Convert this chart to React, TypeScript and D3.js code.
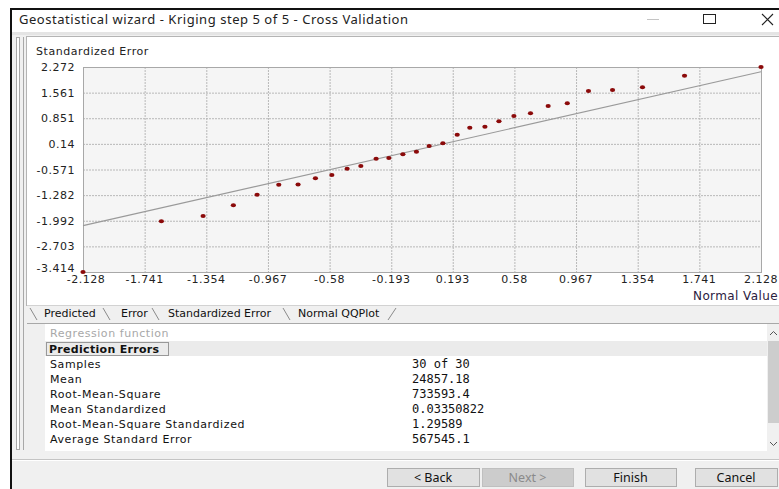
import React from 'react';
import * as d3 from 'd3';

// normal QQ plot: normal quantile vs standardized error (30 samples)
const normalValues = [-2.128, -1.636, -1.374, -1.184, -1.035, -0.899, -0.778, -0.669, -0.566, -0.47,
  -0.384, -0.288, -0.208, -0.12, -0.035, 0.045, 0.131, 0.221, 0.3, 0.395,
  0.483, 0.577, 0.681, 0.792, 0.912, 1.045, 1.196, 1.384, 1.648, 2.128];
const standardizedErrors = [-3.414, -2.008, -1.861, -1.564, -1.27, -0.992, -0.985, -0.815, -0.723, -0.549,
  -0.474, -0.271, -0.252, -0.149, -0.077, 0.081, 0.156, 0.395, 0.589, 0.617,
  0.766, 0.913, 0.988, 1.191, 1.266, 1.607, 1.635, 1.709, 2.031, 2.272];
const refLineX = [-2.128, 2.128];
const refLineY = [-2.13, 2.14];

const xTickLabels = ['-2.128', '-1.741', '-1.354', '-0.967', '-0.58', '-0.193', '0.193', '0.58', '0.967', '1.354', '1.741', '2.128'];
const yTickLabels = ['2.272', '1.561', '0.851', '0.14', '-0.571', '-1.282', '-1.992', '-2.703', '-3.414'];

const tabNames = ['Predicted', 'Error', 'Standardized Error', 'Normal QQPlot'];
const statLabels = ['Samples', 'Mean', 'Root-Mean-Square', 'Mean Standardized', 'Root-Mean-Square Standardized', 'Average Standard Error'];
const statValues = ['30 of 30', '24857.18', '733593.4', '0.03350822', '1.29589', '567545.1'];
const buttonLabels = ['< Back', 'Next >', 'Finish', 'Cancel'];

// layout
const tabX = [44, 121, 168, 298];
const tabSepX = [30, 103, 152, 283];
const buttonX = [387, 482, 585, 695];
const buttonW = [92, 91, 91, 82];

const ui = 'DejaVu Sans, Verdana, sans-serif';
const seg = 'Noto Sans, Open Sans, sans-serif';

export default function App() {
  const x = d3.scaleLinear().domain([-2.128, 2.128]).range([83, 761]);
  const y = d3.scaleLinear().domain([-3.414, 2.272]).range([272, 67]);
  const line = d3.line<number>().x((d) => x(d)).y((d, i) => y(refLineY[i]));

  return (
    <svg width={779} height={489} style={{ position: 'absolute', left: 0, top: 0 }}>
      <rect width={779} height={489} fill="#fff" />
      {/* window frame + title bar */}
      <rect x={12} y={35} width={767} height={454} fill="#f0f0f0" />
      <rect x={10} y={8} width={769} height={2} fill="#111" />
      <rect x={10} y={8} width={2} height={481} fill="#111" />
      <rect x={12} y={32} width={767} height={3} fill="#e4e4e4" />
      <text x={19} y={23.5} fontFamily={seg} fontSize={13} textLength={389} lengthAdjust="spacing" fill="#222">
        Geostatistical wizard - Kriging step 5 of 5 - Cross Validation
      </text>
      <line x1={647} x2={659} y1={19.5} y2={19.5} stroke="#c4c4c4" />
      <rect x={703.5} y={14.5} width={12} height={9} fill="none" stroke="#222" />
      <path d="M762,14L773,25M773,14L762,25" stroke="#222" strokeWidth={1.1} />

      {/* splitter */}
      <rect x={16.5} y={37.5} width={3} height={412} fill="#fff" stroke="#a8a8a8" />
      <line x1={23.5} x2={23.5} y1={37} y2={450} stroke="#a8a8a8" />

      {/* chart panel */}
      <rect x={26.5} y={36.5} width={760} height={269} fill="#fff" stroke="#b4b4b4" />
      <text x={36} y={55} fontFamily={ui} fontSize={11} letterSpacing={0.55} fill="#222">Standardized Error</text>
      <rect x={x(-2.128)} y={y(2.272)} width={x(2.128) - x(-2.128)} height={y(-3.414) - y(2.272)} fill="#f5f5f5" />
      {xTickLabels.map((t) => (
        <line key={'gx' + t} x1={x(+t) + 0.5} x2={x(+t) + 0.5} y1={y(2.272)} y2={y(-3.414)} stroke="#b8b8b8" strokeDasharray="2 1" />
      ))}
      {yTickLabels.map((t) => (
        <line key={'gy' + t} x1={x(-2.128)} x2={x(2.128)} y1={y(+t) + 0.5} y2={y(+t) + 0.5} stroke="#b8b8b8" strokeDasharray="2 1" />
      ))}
      <rect x={x(-2.128) + 0.5} y={y(2.272) + 0.5} width={x(2.128) - x(-2.128)} height={y(-3.414) - y(2.272)} fill="none" stroke="#a8a8a8" />
      {yTickLabels.map((t) => (
        <text key={'ly' + t} x={75} y={Math.min(y(+t) + 4, 272)} textAnchor="end" fontFamily={ui} fontSize={11} letterSpacing={0.5} fill="#222">{t}</text>
      ))}
      {xTickLabels.map((t) => (
        <text key={'lx' + t} x={Math.max(x(+t), 86)} y={282.5} textAnchor="middle" fontFamily={ui} fontSize={11} letterSpacing={0.5} fill="#222">{t}</text>
      ))}
      <text x={693} y={300} fontFamily={ui} fontSize={12} letterSpacing={0.4} fill="#2a2040">Normal Value</text>
      <path d={line(refLineX) || ''} fill="none" stroke="#9a9a9a" strokeWidth={1.2} />
      {normalValues.map((v, i) => (
        <ellipse key={i} cx={x(v)} cy={y(standardizedErrors[i])} rx={2.6} ry={2} fill="#8b0a0a" />
      ))}

      {/* tabs */}
      <rect x={27} y={305} width={752} height={19} fill="#f0f0f0" />
      <line x1={27} x2={779} y1={305.5} y2={305.5} stroke="#d2d2d2" />
      <line x1={27} x2={779} y1={323.5} y2={323.5} stroke="#a8a8a8" />
      {tabSepX.map((sx, i) => (
        <path key={'ts' + i} d={`M${sx},308L${sx + 7},320`} stroke="#8a8a8a" fill="none" />
      ))}
      <path d="M388,320L396,308" stroke="#8a8a8a" fill="none" />
      {tabNames.map((t, i) => (
        <text key={t} x={tabX[i]} y={317} fontFamily={ui} fontSize={11} fill="#111">{t}</text>
      ))}

      {/* property grid */}
      <rect x={27} y={324} width={740} height={127} fill="#fff" />
      <rect x={27} y={324} width={18} height={127} fill="#f0f0f0" />
      <rect x={45} y={341} width={722} height={15} fill="#ebebeb" />
      <text x={50} y={337} fontFamily={ui} fontSize={11} letterSpacing={0.55} fill="#a8a8a8">Regression function</text>
      <rect x={46.5} y={342.5} width={122} height={13} fill="none" stroke="#444" strokeDasharray="1 1" />
      <text x={49} y={353} fontFamily={ui} fontSize={11} fontWeight="bold" letterSpacing={0.3} fill="#111">Prediction Errors</text>
      {statLabels.map((s, i) => (
        <text key={s} x={50} y={368 + i * 15} fontFamily={ui} fontSize={11} letterSpacing={0.6} fill="#111">{s}</text>
      ))}
      {statValues.map((s, i) => (
        <text key={'v' + i} x={412} y={368 + i * 15} fontFamily="DejaVu Sans Mono, monospace" fontSize={12} fill="#111">{s}</text>
      ))}
      <rect x={767} y={324} width={12} height={127} fill="#f0f0f0" />
      <rect x={768} y={341} width={11} height={82} fill="#cdcdcd" />
      <path d="M770,335L773.5,331.5L777,335" stroke="#555" fill="none" />
      <path d="M770,442L773.5,445.5L777,442" stroke="#555" fill="none" />

      {/* buttons */}
      <line x1={12} x2={779} y1={459.5} y2={459.5} stroke="#c4c4c4" />
      <line x1={12} x2={779} y1={460.5} y2={460.5} stroke="#fff" />
      {buttonLabels.map((b, i) => (
        <g key={b}>
          <rect x={buttonX[i] + 0.5} y={468.5} width={buttonW[i]} height={18} fill={i === 1 ? '#cccccc' : '#e1e1e1'} stroke={i === 1 ? '#bfbfbf' : '#adadad'} />
          <text x={buttonX[i] + buttonW[i] / 2} y={482} textAnchor="middle" fontFamily={seg} fontSize={12.5} fill={i === 1 ? '#8a8a8a' : '#111'}>{b}</text>
        </g>
      ))}
    </svg>
  );
}
